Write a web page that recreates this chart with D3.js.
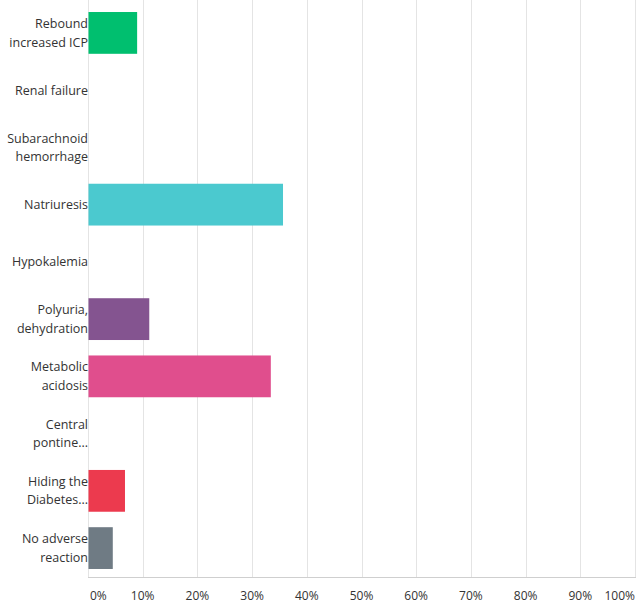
<!DOCTYPE html>
<html>
<head>
<meta charset="utf-8">
<script src="https://cdn.jsdelivr.net/npm/d3@7"></script>
<style>
  body { margin: 0; background: #fff; }
  svg text { font-family: "Open Sans", sans-serif; fill: #333; }
</style>
</head>
<body>
<svg id="chart"></svg>
<script>
// answer choices, split the way the survey tool wraps them
var categories = [
    ["Rebound", "increased ICP"],
    ["Renal failure"],
    ["Subarachnoid", "hemorrhage"],
    ["Natriuresis"],
    ["Hypokalemia"],
    ["Polyuria,", "dehydration"],
    ["Metabolic", "acidosis"],
    ["Central", "pontine..."],
    ["Hiding the", "Diabetes..."],
    ["No adverse", "reaction"]
];
var percents = [8.89, 0, 0, 35.56, 0, 11.11, 33.33, 0, 6.67, 4.44];
var colors = ["#00bf6f", "#4bc9cf", "#4bc9cf", "#4bc9cf", "#4bc9cf", "#845490", "#e04e8d", "#e04e8d", "#ec3a4e", "#6f7b84"];
var tickValues = [0, 10, 20, 30, 40, 50, 60, 70, 80, 90, 100];

var width = 642, height = 606;
var margin = { top: 4, right: 7, bottom: 29, left: 88 };

var svg = d3.select("#chart").attr("width", width).attr("height", height);

var x = d3.scaleLinear()
    .domain([0, 100])
    .range([margin.left, width - margin.right]);

var keys = categories.map(function (c) { return c.join(" "); });
var y = d3.scaleBand()
    .domain(keys)
    .range([margin.top, height - margin.bottom])
    .paddingInner(0.27)
    .paddingOuter(0.14);

// vertical gridlines
svg.append("g")
    .selectAll("line")
    .data(tickValues)
    .join("line")
    .attr("x1", function (d) { return Math.round(x(d)) + 0.5; })
    .attr("x2", function (d) { return Math.round(x(d)) + 0.5; })
    .attr("y1", 0)
    .attr("y2", height - margin.bottom)
    .attr("stroke", "#e4e4e4")
    .attr("stroke-width", 1);

// bars
svg.append("g")
    .selectAll("rect")
    .data(percents)
    .join("rect")
    .attr("x", x(0) + 0.5)
    .attr("y", function (d, i) { return y(keys[i]); })
    .attr("height", y.bandwidth())
    .attr("width", function (d) { return Math.max(0, x(d) - x(0)); })
    .attr("fill", function (d, i) { return colors[i]; });

// baseline
svg.append("line")
    .attr("x1", x(0))
    .attr("x2", x(100) + 1)
    .attr("y1", height - margin.bottom + 0.5)
    .attr("y2", height - margin.bottom + 0.5)
    .attr("stroke", "#cfcfcf");

// category labels
var labels = svg.append("g")
    .selectAll("text")
    .data(categories)
    .join("text")
    .attr("text-anchor", "end")
    .attr("font-size", 12.5)
    .attr("transform", function (d, i) {
        return "translate(" + (x(0)) + "," + (y(keys[i]) + y.bandwidth() / 2) + ")";
    });

labels.each(function (lines) {
    var t = d3.select(this);
    var lh = 18.5;
    lines.forEach(function (line, j) {
        t.append("tspan")
            .attr("x", 0)
            .attr("y", (j - (lines.length - 1) / 2) * lh)
            .attr("dy", "0.35em")
            .text(line);
    });
});

// x tick labels
svg.append("g")
    .selectAll("text")
    .data(tickValues)
    .join("text")
    .attr("x", function (d) { return d === 0 ? x(d) + 2 : x(d); })
    .attr("y", height - 6)
    .attr("font-size", 12)
    .attr("text-anchor", function (d) {
        return d === 0 ? "start" : (d === 100 ? "end" : "middle");
    })
    .text(function (d) { return d + "%"; });
</script>
</body>
</html>
